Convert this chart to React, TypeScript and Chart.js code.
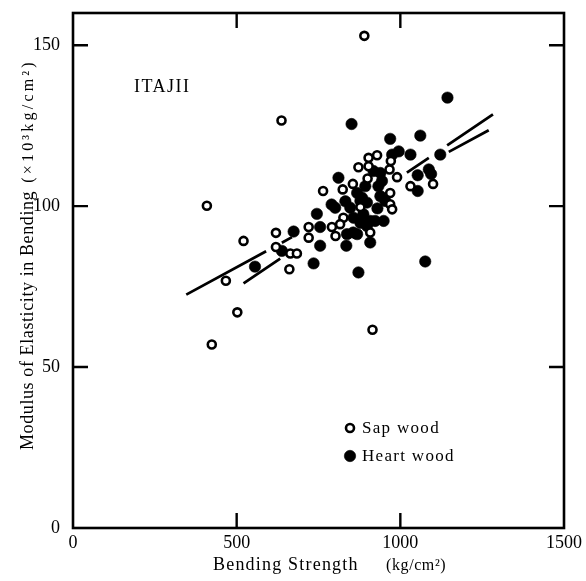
import React, { useEffect, useRef } from 'react';
import { Chart, registerables } from 'chart.js';

Chart.register(...registerables);

const xTicks = [0, 500, 1000, 1500];
const yTicks = [0, 50, 100, 150];

const sapX = [890, 637, 409, 521, 620, 620, 467, 502, 424, 915, 664, 684, 661, 720, 720, 764, 824, 855, 802, 791, 826, 816, 878, 908, 872, 903, 929, 903, 900, 971, 967, 990, 969, 969, 975, 1031, 1100];
const sapY = [152.9, 126.6, 100.1, 89.2, 91.7, 87.3, 76.8, 67.0, 57.0, 61.6, 85.3, 85.3, 80.4, 93.5, 90.2, 104.7, 105.2, 106.9, 90.7, 93.5, 96.4, 94.4, 99.7, 91.8, 112.1, 115.0, 115.8, 112.4, 108.6, 114.0, 111.4, 109.0, 104.1, 100.6, 99.0, 106.2, 106.9];

const heartX = [851, 969, 1061, 1122, 995, 1031, 975, 939, 944, 811, 868, 883, 801, 898, 857, 837, 868, 908, 835, 949, 923, 939, 954, 1053, 1087, 1094, 1053, 1076, 872, 735, 755, 755, 745, 674, 638, 556, 1144, 847, 908, 887, 930, 832, 893, 933, 878, 856, 878, 898, 918, 790];
const heartY = [125.5, 120.9, 121.9, 116.0, 117.0, 116.0, 116.0, 110.3, 107.8, 108.8, 104.1, 102.6, 99.5, 101.1, 96.4, 91.3, 91.3, 88.7, 87.7, 95.4, 95.4, 103.1, 101.6, 109.6, 111.4, 110.0, 104.7, 82.8, 79.4, 82.2, 87.7, 93.5, 97.6, 92.1, 86.1, 81.2, 133.7, 99.5, 95.4, 97.5, 99.3, 101.5, 106.2, 106.2, 94.8, 91.8, 101.6, 93.8, 110.9, 100.5];

// regression lines: [x0, y0, x1, y1] and the visible (unbroken) x-ranges
const lineAEnds = [346, 72.5, 1270, 123.6];
const lineASegments = [[346, 590], [638, 669], [1148, 1270]];
const lineBEnds = [521, 76.0, 1283, 128.5];
const lineBSegments = [[521, 633], [1020, 1087], [1143, 1283]];

const seriesLabels = ['Sap wood', 'Heart wood'];
const panelLabel = 'ITAJII';
const xTitle = 'Bending Strength';
const xUnit = '(kg/cm²)';
const yTitle = 'Modulus of Elasticity in Bending';
const yUnit = '(×10³kg/cm²)';

const SERIF = "'Liberation Serif', 'Times New Roman', serif";

function toPoints(xs: number[], ys: number[]) {
  return xs.map((x, i) => ({ x, y: ys[i] }));
}

function lineData(ends: number[], segs: number[][]) {
  const [x0, y0, x1, y1] = ends;
  const f = (x: number) => y0 + ((y1 - y0) * (x - x0)) / (x1 - x0);
  const out: any[] = [];
  segs.forEach((s, i) => {
    if (i > 0) out.push({ x: (segs[i - 1][1] + s[0]) / 2, y: null });
    out.push({ x: s[0], y: f(s[0]) }, { x: s[1], y: f(s[1]) });
  });
  return out;
}

const decorPlugin = {
  id: 'decor',
  afterDraw(chart: any) {
    const { ctx, chartArea: a, scales } = chart;
    const xs = scales.x;
    const ys = scales.y;
    ctx.save();
    ctx.strokeStyle = '#000';
    ctx.fillStyle = '#000';
    // frame
    ctx.lineWidth = 2.6;
    ctx.strokeRect(a.left, a.top, a.right - a.left, a.bottom - a.top);
    // inward ticks
    const TL = 15;
    ctx.lineWidth = 2.4;
    ctx.beginPath();
    xTicks.forEach((v) => {
      if (v === xTicks[0] || v === xTicks[xTicks.length - 1]) return;
      const px = xs.getPixelForValue(v);
      ctx.moveTo(px, a.bottom);
      ctx.lineTo(px, a.bottom - TL);
      ctx.moveTo(px, a.top);
      ctx.lineTo(px, a.top + TL);
    });
    yTicks.forEach((v) => {
      if (v === yTicks[0]) return;
      const py = ys.getPixelForValue(v);
      ctx.moveTo(a.left, py);
      ctx.lineTo(a.left + TL, py);
      ctx.moveTo(a.right, py);
      ctx.lineTo(a.right - TL, py);
    });
    ctx.stroke();

    // x axis title
    ctx.textBaseline = 'alphabetic';
    ctx.textAlign = 'left';
    ctx.font = `18px ${SERIF}`;
    (ctx as any).letterSpacing = '1.2px';
    ctx.fillText(xTitle, 213, 570);
    ctx.font = `16px ${SERIF}`;
    (ctx as any).letterSpacing = '0.6px';
    ctx.fillText(xUnit, 386, 570);

    // y axis title (rotated)
    ctx.save();
    ctx.translate(33, 450);
    ctx.rotate(-Math.PI / 2);
    ctx.font = `18px ${SERIF}`;
    (ctx as any).letterSpacing = '0.6px';
    ctx.fillText(yTitle, 0, 0);
    const w = ctx.measureText(yTitle).width;
    ctx.font = `16px ${SERIF}`;
    (ctx as any).letterSpacing = '3.2px';
    ctx.fillText(yUnit, w + 8, 0);
    ctx.restore();

    // panel label
    ctx.font = `18px ${SERIF}`;
    (ctx as any).letterSpacing = '1.5px';
    ctx.fillText(panelLabel, 134, 92);

    // legend
    ctx.font = `17px ${SERIF}`;
    (ctx as any).letterSpacing = '1.3px';
    ctx.textBaseline = 'middle';
    const rows = [428, 456];
    chart.data.datasets.slice(0, 2).forEach((ds: any, i: number) => {
      const cy = rows[i];
      ctx.beginPath();
      ctx.arc(350, cy, ds.pointRadius, 0, Math.PI * 2);
      ctx.fillStyle = ds.backgroundColor;
      ctx.fill();
      ctx.lineWidth = ds.borderWidth;
      ctx.strokeStyle = ds.borderColor;
      ctx.stroke();
      ctx.fillStyle = '#000';
      ctx.fillText(seriesLabels[i], 362, cy + 1);
    });
    (ctx as any).letterSpacing = '0px';
    ctx.restore();
  },
};

export default function App() {
  const ref = useRef<HTMLCanvasElement | null>(null);
  useEffect(() => {
    if (!ref.current) return;
    const chart = new Chart(ref.current, {
      type: 'scatter',
      data: {
        datasets: [
          {
            label: seriesLabels[0],
            data: toPoints(sapX, sapY),
            pointRadius: 4,
            borderWidth: 2.6,
            borderColor: '#000',
            backgroundColor: '#fff',
          },
          {
            label: seriesLabels[1],
            data: toPoints(heartX, heartY),
            pointRadius: 5.7,
            borderWidth: 0.6,
            borderColor: '#000',
            backgroundColor: '#000',
          },
          {
            label: 'line A',
            data: lineData(lineAEnds, lineASegments),
            showLine: true,
            spanGaps: false,
            pointRadius: 0,
            borderColor: '#000',
            borderWidth: 2.8,
            backgroundColor: '#000',
          },
          {
            label: 'line B',
            data: lineData(lineBEnds, lineBSegments),
            showLine: true,
            spanGaps: false,
            pointRadius: 0,
            borderColor: '#000',
            borderWidth: 2.8,
            backgroundColor: '#000',
          },
        ] as any,
      },
      options: {
        animation: false,
        responsive: false,
        layout: { padding: { left: 0, top: 13, right: 22, bottom: 0 } },
        plugins: {
          legend: { display: false },
          tooltip: { enabled: false },
        },
        scales: {
          x: {
            type: 'linear',
            min: 0,
            max: 1500,
            grid: { display: false, drawTicks: false },
            border: { display: false },
            ticks: {
              padding: 4,
              color: '#000',
              font: { family: SERIF, size: 18 },
              maxRotation: 0,
              callback: (v: any) => String(v),
            },
            afterBuildTicks: (s: any) => {
              s.ticks = xTicks.map((v) => ({ value: v }));
            },
            afterFit: (s: any) => {
              s.height = 53;
              s.paddingLeft = 0;
              s.paddingRight = 0;
            },
          },
          y: {
            type: 'linear',
            min: 0,
            max: 160,
            grid: { display: false, drawTicks: false },
            border: { display: false },
            ticks: {
              padding: 13,
              color: '#000',
              font: { family: SERIF, size: 18 },
              callback: (v: any) => String(v),
            },
            afterBuildTicks: (s: any) => {
              s.ticks = yTicks.map((v) => ({ value: v }));
            },
            afterFit: (s: any) => {
              s.width = 73;
              s.paddingTop = 0;
              s.paddingBottom = 0;
            },
          },
        },
      } as any,
      plugins: [decorPlugin],
    });
    return () => chart.destroy();
  }, []);

  return (
    <div style={{ position: 'fixed', left: 0, top: 0, width: 586, height: 581, background: '#fff' }}>
      <canvas ref={ref} width={586} height={581} />
    </div>
  );
}
